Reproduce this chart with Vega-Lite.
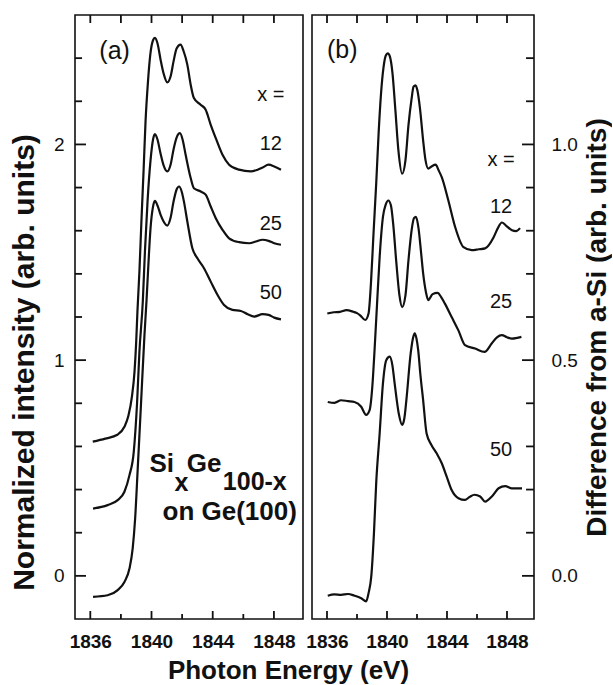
{
  "$schema": "https://vega.github.io/schema/vega-lite/v6.json",
  "background": "white",
  "padding": {"left": 8, "top": 13, "right": 0, "bottom": 0},
  "bounds": "flush",
  "spacing": 9,
  "config": {
    "axis": {"domain": false, "grid": false, "labelColor": "#111", "titleColor": "#111", "labelFont": "Liberation Sans", "titleFont": "Liberation Sans"},
    "view": {"stroke": "#111", "strokeWidth": 1.6},
    "text": {"font": "Liberation Sans", "color": "#111"},
    "rule": {"color": "#111", "strokeWidth": 1.8}
  },
  "datasets": {
    "left": [
      {"s":"12","e":1836.16,"v":0.622},{"s":"12","e":1836.98,"v":0.636},{"s":"12","e":1837.77,"v":0.654},{"s":"12","e":1838.23,"v":0.691},{"s":"12","e":1838.49,"v":0.742},{"s":"12","e":1838.72,"v":0.831},{"s":"12","e":1838.89,"v":0.947},{"s":"12","e":1839.00,"v":1.086},{"s":"12","e":1839.08,"v":1.225},{"s":"12","e":1839.21,"v":1.411},{"s":"12","e":1839.34,"v":1.643},{"s":"12","e":1839.48,"v":1.875},{"s":"12","e":1839.61,"v":2.107},{"s":"12","e":1839.77,"v":2.292},{"s":"12","e":1839.93,"v":2.422},{"s":"12","e":1840.10,"v":2.483},{"s":"12","e":1840.22,"v":2.494},{"s":"12","e":1840.39,"v":2.469},{"s":"12","e":1840.59,"v":2.394},{"s":"12","e":1840.79,"v":2.329},{"s":"12","e":1841.03,"v":2.288},{"s":"12","e":1841.25,"v":2.316},{"s":"12","e":1841.44,"v":2.385},{"s":"12","e":1841.64,"v":2.445},{"s":"12","e":1841.90,"v":2.463},{"s":"12","e":1842.10,"v":2.432},{"s":"12","e":1842.34,"v":2.370},{"s":"12","e":1842.56,"v":2.277},{"s":"12","e":1842.77,"v":2.215},{"s":"12","e":1843.21,"v":2.184},{"s":"12","e":1843.54,"v":2.161},{"s":"12","e":1843.87,"v":2.091},{"s":"12","e":1844.20,"v":2.029},{"s":"12","e":1844.64,"v":1.952},{"s":"12","e":1845.07,"v":1.906},{"s":"12","e":1845.72,"v":1.883},{"s":"12","e":1846.49,"v":1.875},{"s":"12","e":1846.93,"v":1.883},{"s":"12","e":1847.26,"v":1.893},{"s":"12","e":1847.65,"v":1.906},{"s":"12","e":1848.02,"v":1.898},{"s":"12","e":1848.46,"v":1.883},
      {"s":"25","e":1836.18,"v":0.312},{"s":"25","e":1837.13,"v":0.328},{"s":"25","e":1837.79,"v":0.351},{"s":"25","e":1838.23,"v":0.390},{"s":"25","e":1838.56,"v":0.467},{"s":"25","e":1838.84,"v":0.575},{"s":"25","e":1839.06,"v":0.807},{"s":"25","e":1839.21,"v":1.039},{"s":"25","e":1839.43,"v":1.271},{"s":"25","e":1839.57,"v":1.503},{"s":"25","e":1839.74,"v":1.735},{"s":"25","e":1839.93,"v":1.921},{"s":"25","e":1840.10,"v":2.023},{"s":"25","e":1840.22,"v":2.048},{"s":"25","e":1840.39,"v":2.023},{"s":"25","e":1840.59,"v":1.958},{"s":"25","e":1840.79,"v":1.903},{"s":"25","e":1841.03,"v":1.875},{"s":"25","e":1841.25,"v":1.907},{"s":"25","e":1841.44,"v":1.977},{"s":"25","e":1841.64,"v":2.032},{"s":"25","e":1841.86,"v":2.052},{"s":"25","e":1842.03,"v":2.023},{"s":"25","e":1842.23,"v":1.952},{"s":"25","e":1842.56,"v":1.844},{"s":"25","e":1842.77,"v":1.797},{"s":"25","e":1843.21,"v":1.782},{"s":"25","e":1843.54,"v":1.767},{"s":"25","e":1843.87,"v":1.712},{"s":"25","e":1844.20,"v":1.658},{"s":"25","e":1844.64,"v":1.604},{"s":"25","e":1845.07,"v":1.565},{"s":"25","e":1845.72,"v":1.547},{"s":"25","e":1846.38,"v":1.542},{"s":"25","e":1846.82,"v":1.550},{"s":"25","e":1847.26,"v":1.558},{"s":"25","e":1847.65,"v":1.553},{"s":"25","e":1848.02,"v":1.542},{"s":"25","e":1848.46,"v":1.535},
      {"s":"50","e":1836.18,"v":-0.097},{"s":"50","e":1837.13,"v":-0.090},{"s":"50","e":1837.79,"v":-0.066},{"s":"50","e":1838.23,"v":-0.028},{"s":"50","e":1838.56,"v":0.034},{"s":"50","e":1838.77,"v":0.127},{"s":"50","e":1838.93,"v":0.266},{"s":"50","e":1839.10,"v":0.498},{"s":"50","e":1839.32,"v":0.807},{"s":"50","e":1839.54,"v":1.117},{"s":"50","e":1839.67,"v":1.271},{"s":"50","e":1839.80,"v":1.448},{"s":"50","e":1839.93,"v":1.606},{"s":"50","e":1840.09,"v":1.708},{"s":"50","e":1840.22,"v":1.738},{"s":"50","e":1840.39,"v":1.717},{"s":"50","e":1840.59,"v":1.675},{"s":"50","e":1840.79,"v":1.643},{"s":"50","e":1841.03,"v":1.624},{"s":"50","e":1841.25,"v":1.661},{"s":"50","e":1841.44,"v":1.735},{"s":"50","e":1841.64,"v":1.791},{"s":"50","e":1841.80,"v":1.805},{"s":"50","e":1841.97,"v":1.782},{"s":"50","e":1842.12,"v":1.735},{"s":"50","e":1842.34,"v":1.643},{"s":"50","e":1842.67,"v":1.519},{"s":"50","e":1843.00,"v":1.472},{"s":"50","e":1843.43,"v":1.426},{"s":"50","e":1843.87,"v":1.364},{"s":"50","e":1844.31,"v":1.303},{"s":"50","e":1844.74,"v":1.256},{"s":"50","e":1845.29,"v":1.233},{"s":"50","e":1845.84,"v":1.228},{"s":"50","e":1846.28,"v":1.213},{"s":"50","e":1846.71,"v":1.202},{"s":"50","e":1847.26,"v":1.213},{"s":"50","e":1847.65,"v":1.210},{"s":"50","e":1848.02,"v":1.197},{"s":"50","e":1848.46,"v":1.189}
    ],
    "right": [
      {"s":"12","e":1836.02,"v":0.608},{"s":"12","e":1836.45,"v":0.611},{"s":"12","e":1836.87,"v":0.612},{"s":"12","e":1837.3,"v":0.616},{"s":"12","e":1837.76,"v":0.612},{"s":"12","e":1838.0,"v":0.609},{"s":"12","e":1838.21,"v":0.604},{"s":"12","e":1838.55,"v":0.593},{"s":"12","e":1838.77,"v":0.608},{"s":"12","e":1838.93,"v":0.678},{"s":"12","e":1839.10,"v":0.793},{"s":"12","e":1839.28,"v":0.909},{"s":"12","e":1839.44,"v":1.025},{"s":"12","e":1839.60,"v":1.117},{"s":"12","e":1839.77,"v":1.179},{"s":"12","e":1839.92,"v":1.206},{"s":"12","e":1840.05,"v":1.211},{"s":"12","e":1840.19,"v":1.204},{"s":"12","e":1840.36,"v":1.167},{"s":"12","e":1840.56,"v":1.079},{"s":"12","e":1840.76,"v":0.986},{"s":"12","e":1841.01,"v":0.932},{"s":"12","e":1841.23,"v":0.963},{"s":"12","e":1841.43,"v":1.044},{"s":"12","e":1841.64,"v":1.106},{"s":"12","e":1841.77,"v":1.134},{"s":"12","e":1841.90,"v":1.137},{"s":"12","e":1842.03,"v":1.125},{"s":"12","e":1842.20,"v":1.083},{"s":"12","e":1842.41,"v":1.009},{"s":"12","e":1842.57,"v":0.963},{"s":"12","e":1842.75,"v":0.944},{"s":"12","e":1842.97,"v":0.949},{"s":"12","e":1843.24,"v":0.953},{"s":"12","e":1843.44,"v":0.940},{"s":"12","e":1843.65,"v":0.924},{"s":"12","e":1844.09,"v":0.870},{"s":"12","e":1844.54,"v":0.809},{"s":"12","e":1845.10,"v":0.762},{"s":"12","e":1845.65,"v":0.755},{"s":"12","e":1846.12,"v":0.757},{"s":"12","e":1846.54,"v":0.759},{"s":"12","e":1847.11,"v":0.785},{"s":"12","e":1847.39,"v":0.806},{"s":"12","e":1847.66,"v":0.819},{"s":"12","e":1847.93,"v":0.812},{"s":"12","e":1848.33,"v":0.801},{"s":"12","e":1848.60,"v":0.799},{"s":"12","e":1848.87,"v":0.806},
      {"s":"25","e":1836.05,"v":0.403},{"s":"25","e":1836.5,"v":0.401},{"s":"25","e":1836.94,"v":0.407},{"s":"25","e":1837.4,"v":0.405},{"s":"25","e":1837.83,"v":0.403},{"s":"25","e":1838.28,"v":0.392},{"s":"25","e":1838.61,"v":0.373},{"s":"25","e":1838.84,"v":0.384},{"s":"25","e":1839.02,"v":0.438},{"s":"25","e":1839.17,"v":0.523},{"s":"25","e":1839.35,"v":0.639},{"s":"25","e":1839.51,"v":0.739},{"s":"25","e":1839.73,"v":0.832},{"s":"25","e":1839.92,"v":0.861},{"s":"25","e":1840.09,"v":0.870},{"s":"25","e":1840.26,"v":0.859},{"s":"25","e":1840.42,"v":0.813},{"s":"25","e":1840.62,"v":0.727},{"s":"25","e":1840.83,"v":0.650},{"s":"25","e":1841.01,"v":0.623},{"s":"25","e":1841.23,"v":0.650},{"s":"25","e":1841.43,"v":0.731},{"s":"25","e":1841.64,"v":0.801},{"s":"25","e":1841.80,"v":0.829},{"s":"25","e":1841.93,"v":0.832},{"s":"25","e":1842.10,"v":0.806},{"s":"25","e":1842.27,"v":0.750},{"s":"25","e":1842.41,"v":0.701},{"s":"25","e":1842.60,"v":0.657},{"s":"25","e":1842.75,"v":0.639},{"s":"25","e":1843.04,"v":0.653},{"s":"25","e":1843.37,"v":0.656},{"s":"25","e":1843.61,"v":0.646},{"s":"25","e":1843.86,"v":0.631},{"s":"25","e":1844.31,"v":0.600},{"s":"25","e":1844.76,"v":0.569},{"s":"25","e":1845.20,"v":0.535},{"s":"25","e":1845.87,"v":0.527},{"s":"25","e":1846.50,"v":0.519},{"s":"25","e":1846.99,"v":0.539},{"s":"25","e":1847.33,"v":0.553},{"s":"25","e":1847.66,"v":0.558},{"s":"25","e":1848.00,"v":0.553},{"s":"25","e":1848.33,"v":0.550},{"s":"25","e":1848.96,"v":0.554},
      {"s":"50","e":1836.05,"v":-0.046},{"s":"50","e":1836.5,"v":-0.043},{"s":"50","e":1836.94,"v":-0.044},{"s":"50","e":1837.4,"v":-0.042},{"s":"50","e":1837.83,"v":-0.046},{"s":"50","e":1838.28,"v":-0.052},{"s":"50","e":1838.61,"v":-0.059},{"s":"50","e":1838.77,"v":-0.040},{"s":"50","e":1838.95,"v":-0.002},{"s":"50","e":1839.13,"v":0.099},{"s":"50","e":1839.28,"v":0.215},{"s":"50","e":1839.51,"v":0.330},{"s":"50","e":1839.73,"v":0.446},{"s":"50","e":1839.95,"v":0.500},{"s":"50","e":1840.18,"v":0.508},{"s":"50","e":1840.36,"v":0.488},{"s":"50","e":1840.51,"v":0.446},{"s":"50","e":1840.78,"v":0.377},{"s":"50","e":1841.01,"v":0.350},{"s":"50","e":1841.16,"v":0.366},{"s":"50","e":1841.29,"v":0.407},{"s":"50","e":1841.58,"v":0.516},{"s":"50","e":1841.73,"v":0.551},{"s":"50","e":1841.85,"v":0.562},{"s":"50","e":1841.96,"v":0.551},{"s":"50","e":1842.08,"v":0.523},{"s":"50","e":1842.23,"v":0.465},{"s":"50","e":1842.41,"v":0.407},{"s":"50","e":1842.64,"v":0.330},{"s":"50","e":1842.97,"v":0.303},{"s":"50","e":1843.31,"v":0.284},{"s":"50","e":1843.65,"v":0.261},{"s":"50","e":1843.98,"v":0.230},{"s":"50","e":1844.31,"v":0.199},{"s":"50","e":1844.76,"v":0.180},{"s":"50","e":1845.20,"v":0.176},{"s":"50","e":1845.51,"v":0.183},{"s":"50","e":1845.83,"v":0.188},{"s":"50","e":1846.21,"v":0.184},{"s":"50","e":1846.54,"v":0.172},{"s":"50","e":1846.99,"v":0.184},{"s":"50","e":1847.44,"v":0.203},{"s":"50","e":1847.88,"v":0.208},{"s":"50","e":1848.33,"v":0.203},{"s":"50","e":1849.00,"v":0.203}
    ],
    "xmajor": [{"t": 1836}, {"t": 1840}, {"t": 1844}, {"t": 1848}],
    "xminor": [{"t": 1838}, {"t": 1842}, {"t": 1846}],
    "xall": [{"t": 1836}, {"t": 1838}, {"t": 1840}, {"t": 1842}, {"t": 1844}, {"t": 1846}, {"t": 1848}],
    "ylmajor": [{"t": 0}, {"t": 1}, {"t": 2}],
    "ylminor": [{"t": 0.2}, {"t": 0.4}, {"t": 0.6}, {"t": 0.8}, {"t": 1.2}, {"t": 1.4}, {"t": 1.6}, {"t": 1.8}, {"t": 2.2}, {"t": 2.4}],
    "yrmajor": [{"t": 0}, {"t": 0.5}, {"t": 1.0}],
    "yrminor": [{"t": 0.1}, {"t": 0.2}, {"t": 0.3}, {"t": 0.4}, {"t": 0.6}, {"t": 0.7}, {"t": 0.8}, {"t": 0.9}, {"t": 1.1}, {"t": 1.2}]
  },
  "hconcat": [
    {
      "width": 228,
      "height": 604,
      "resolve": {"axis": {"x": "independent", "y": "independent"}},
      "layer": [
        {
          "data": {"name": "left"},
          "mark": {"type": "line", "color": "#111", "strokeWidth": 2.2, "interpolate": "monotone"},
          "encoding": {
            "x": {"field": "e", "type": "quantitative", "scale": {"domain": [1835, 1849.9], "nice": false, "zero": false},
              "axis": {"orient": "bottom", "values": [1836, 1840, 1844, 1848], "format": "d", "ticks": false, "labelPadding": 13, "labelFontSize": 19, "labelFontWeight": "bold",
                "title": "Photon Energy (eV)", "titleFontSize": 26, "titleFontWeight": "bold", "titleX": 213, "titleY": 38, "titleBaseline": "top", "titleAlign": "center"}},
            "y": {"field": "v", "type": "quantitative", "scale": {"domain": [-0.2, 2.6], "nice": false, "zero": false},
              "axis": {"orient": "left", "values": [0, 1, 2], "format": "d", "ticks": false, "labelPadding": 11, "labelFontSize": 19,
                "title": "Normalized intensity (arb. units)", "titleFontSize": 30, "titleFontWeight": "bold", "titleAngle": 270, "titleX": -36, "titleY": 347, "titleBaseline": "bottom", "titleAlign": "center"}},
            "detail": {"field": "s"}
          }
        },
        {
          "data": {"name": "xmajor"},
          "mark": {"type": "rule"},
          "encoding": {
            "x": {"field": "t", "type": "quantitative", "scale": {"domain": [1835, 1849.9], "nice": false, "zero": false}, "axis": null},
            "y": {"datum": -0.2, "type": "quantitative", "scale": {"domain": [-0.2, 2.6], "nice": false, "zero": false}, "axis": null},
            "y2": {"datum": -0.163}
          }
        },
        {
          "data": {"name": "xminor"},
          "mark": {"type": "rule"},
          "encoding": {
            "x": {"field": "t", "type": "quantitative", "scale": {"domain": [1835, 1849.9], "nice": false, "zero": false}, "axis": null},
            "y": {"datum": -0.2, "type": "quantitative", "scale": {"domain": [-0.2, 2.6], "nice": false, "zero": false}, "axis": null},
            "y2": {"datum": -0.177}
          }
        },
        {
          "data": {"name": "xall"},
          "mark": {"type": "rule"},
          "encoding": {
            "x": {"field": "t", "type": "quantitative", "scale": {"domain": [1835, 1849.9], "nice": false, "zero": false}, "axis": null},
            "y": {"datum": 2.6, "type": "quantitative", "scale": {"domain": [-0.2, 2.6], "nice": false, "zero": false}, "axis": null},
            "y2": {"datum": 2.563}
          }
        },
        {
          "data": {"name": "ylmajor"},
          "mark": {"type": "rule"},
          "encoding": {
            "y": {"field": "t", "type": "quantitative", "scale": {"domain": [-0.2, 2.6], "nice": false, "zero": false}, "axis": null},
            "x": {"datum": 1835, "type": "quantitative", "scale": {"domain": [1835, 1849.9], "nice": false, "zero": false}, "axis": null},
            "x2": {"datum": 1835.72}
          }
        },
        {
          "data": {"name": "ylminor"},
          "mark": {"type": "rule"},
          "encoding": {
            "y": {"field": "t", "type": "quantitative", "scale": {"domain": [-0.2, 2.6], "nice": false, "zero": false}, "axis": null},
            "x": {"datum": 1835, "type": "quantitative", "scale": {"domain": [1835, 1849.9], "nice": false, "zero": false}, "axis": null},
            "x2": {"datum": 1835.46}
          }
        },
        {
          "data": {"values": [
            {"x": 1847.8, "y": 2.227, "label": "x ="},
            {"x": 1847.8, "y": 2.0, "label": "12"},
            {"x": 1847.8, "y": 1.633, "label": "25"},
            {"x": 1847.8, "y": 1.309, "label": "50"}
          ]},
          "mark": {"type": "text", "fontSize": 20, "align": "center", "baseline": "middle"},
          "encoding": {
            "x": {"field": "x", "type": "quantitative", "scale": {"domain": [1835, 1849.9], "nice": false, "zero": false}, "axis": null},
            "y": {"field": "y", "type": "quantitative", "scale": {"domain": [-0.2, 2.6], "nice": false, "zero": false}, "axis": null},
            "text": {"field": "label"}
          }
        },
        {
          "data": {"values": [{"x": 1836.59, "y": 2.432, "label": "(a)"}]},
          "mark": {"type": "text", "fontSize": 25, "align": "left", "baseline": "middle"},
          "encoding": {
            "x": {"field": "x", "type": "quantitative", "scale": {"domain": [1835, 1849.9], "nice": false, "zero": false}, "axis": null},
            "y": {"field": "y", "type": "quantitative", "scale": {"domain": [-0.2, 2.6], "nice": false, "zero": false}, "axis": null},
            "text": {"field": "label"}
          }
        },
        {
          "data": {"values": [
            {"x": 1839.87, "y": 0.52, "label": "Si"},
            {"x": 1842.30, "y": 0.52, "label": "Ge"},
            {"x": 1840.72, "y": 0.297, "label": "on Ge(100)"}
          ]},
          "mark": {"type": "text", "fontSize": 26, "fontWeight": "bold", "align": "left", "baseline": "middle"},
          "encoding": {
            "x": {"field": "x", "type": "quantitative", "scale": {"domain": [1835, 1849.9], "nice": false, "zero": false}, "axis": null},
            "y": {"field": "y", "type": "quantitative", "scale": {"domain": [-0.2, 2.6], "nice": false, "zero": false}, "axis": null},
            "text": {"field": "label"}
          }
        },
        {
          "data": {"values": [
            {"x": 1841.5, "y": 0.432, "label": "x"},
            {"x": 1844.66, "y": 0.436, "label": "100-x"}
          ]},
          "mark": {"type": "text", "fontSize": 25, "fontWeight": "bold", "align": "left", "baseline": "middle"},
          "encoding": {
            "x": {"field": "x", "type": "quantitative", "scale": {"domain": [1835, 1849.9], "nice": false, "zero": false}, "axis": null},
            "y": {"field": "y", "type": "quantitative", "scale": {"domain": [-0.2, 2.6], "nice": false, "zero": false}, "axis": null},
            "text": {"field": "label"}
          }
        }
      ]
    },
    {
      "width": 222,
      "height": 604,
      "resolve": {"axis": {"x": "independent", "y": "independent"}},
      "layer": [
        {
          "data": {"name": "right"},
          "mark": {"type": "line", "color": "#111", "strokeWidth": 2.2, "interpolate": "monotone"},
          "encoding": {
            "x": {"field": "e", "type": "quantitative", "scale": {"domain": [1835, 1849.8], "nice": false, "zero": false},
              "axis": {"orient": "bottom", "values": [1836, 1840, 1844, 1848], "format": "d", "ticks": false, "labelPadding": 13, "labelFontSize": 19, "labelFontWeight": "bold", "title": null}},
            "y": {"field": "v", "type": "quantitative", "scale": {"domain": [-0.1, 1.3], "nice": false, "zero": false},
              "axis": {"orient": "right", "values": [0, 0.5, 1.0], "format": ".1f", "ticks": false, "labelPadding": 17, "labelFontSize": 19,
                "title": "Difference from a-Si (arb. units)", "titleFontSize": 28, "titleFontWeight": "bold", "titleAngle": 270, "titleX": 49, "titleY": 312, "titleBaseline": "top", "titleAlign": "center"}},
            "detail": {"field": "s"}
          }
        },
        {
          "data": {"name": "xmajor"},
          "mark": {"type": "rule"},
          "encoding": {
            "x": {"field": "t", "type": "quantitative", "scale": {"domain": [1835, 1849.8], "nice": false, "zero": false}, "axis": null},
            "y": {"datum": -0.1, "type": "quantitative", "scale": {"domain": [-0.1, 1.3], "nice": false, "zero": false}, "axis": null},
            "y2": {"datum": -0.0815}
          }
        },
        {
          "data": {"name": "xminor"},
          "mark": {"type": "rule"},
          "encoding": {
            "x": {"field": "t", "type": "quantitative", "scale": {"domain": [1835, 1849.8], "nice": false, "zero": false}, "axis": null},
            "y": {"datum": -0.1, "type": "quantitative", "scale": {"domain": [-0.1, 1.3], "nice": false, "zero": false}, "axis": null},
            "y2": {"datum": -0.0884}
          }
        },
        {
          "data": {"name": "xall"},
          "mark": {"type": "rule"},
          "encoding": {
            "x": {"field": "t", "type": "quantitative", "scale": {"domain": [1835, 1849.8], "nice": false, "zero": false}, "axis": null},
            "y": {"datum": 1.3, "type": "quantitative", "scale": {"domain": [-0.1, 1.3], "nice": false, "zero": false}, "axis": null},
            "y2": {"datum": 1.2815}
          }
        },
        {
          "data": {"name": "yrmajor"},
          "mark": {"type": "rule"},
          "encoding": {
            "y": {"field": "t", "type": "quantitative", "scale": {"domain": [-0.1, 1.3], "nice": false, "zero": false}, "axis": null},
            "x": {"datum": 1849.8, "type": "quantitative", "scale": {"domain": [1835, 1849.8], "nice": false, "zero": false}, "axis": null},
            "x2": {"datum": 1849.0}
          }
        },
        {
          "data": {"name": "yrminor"},
          "mark": {"type": "rule"},
          "encoding": {
            "y": {"field": "t", "type": "quantitative", "scale": {"domain": [-0.1, 1.3], "nice": false, "zero": false}, "axis": null},
            "x": {"datum": 1849.8, "type": "quantitative", "scale": {"domain": [1835, 1849.8], "nice": false, "zero": false}, "axis": null},
            "x2": {"datum": 1849.27}
          }
        },
        {
          "data": {"values": [
            {"x": 1847.6, "y": 0.965, "label": "x ="},
            {"x": 1847.6, "y": 0.854, "label": "12"},
            {"x": 1847.6, "y": 0.634, "label": "25"},
            {"x": 1847.6, "y": 0.292, "label": "50"}
          ]},
          "mark": {"type": "text", "fontSize": 20, "align": "center", "baseline": "middle"},
          "encoding": {
            "x": {"field": "x", "type": "quantitative", "scale": {"domain": [1835, 1849.8], "nice": false, "zero": false}, "axis": null},
            "y": {"field": "y", "type": "quantitative", "scale": {"domain": [-0.1, 1.3], "nice": false, "zero": false}, "axis": null},
            "text": {"field": "label"}
          }
        },
        {
          "data": {"values": [{"x": 1836.0, "y": 1.218, "label": "(b)"}]},
          "mark": {"type": "text", "fontSize": 25, "align": "left", "baseline": "middle"},
          "encoding": {
            "x": {"field": "x", "type": "quantitative", "scale": {"domain": [1835, 1849.8], "nice": false, "zero": false}, "axis": null},
            "y": {"field": "y", "type": "quantitative", "scale": {"domain": [-0.1, 1.3], "nice": false, "zero": false}, "axis": null},
            "text": {"field": "label"}
          }
        }
      ]
    }
  ]
}
